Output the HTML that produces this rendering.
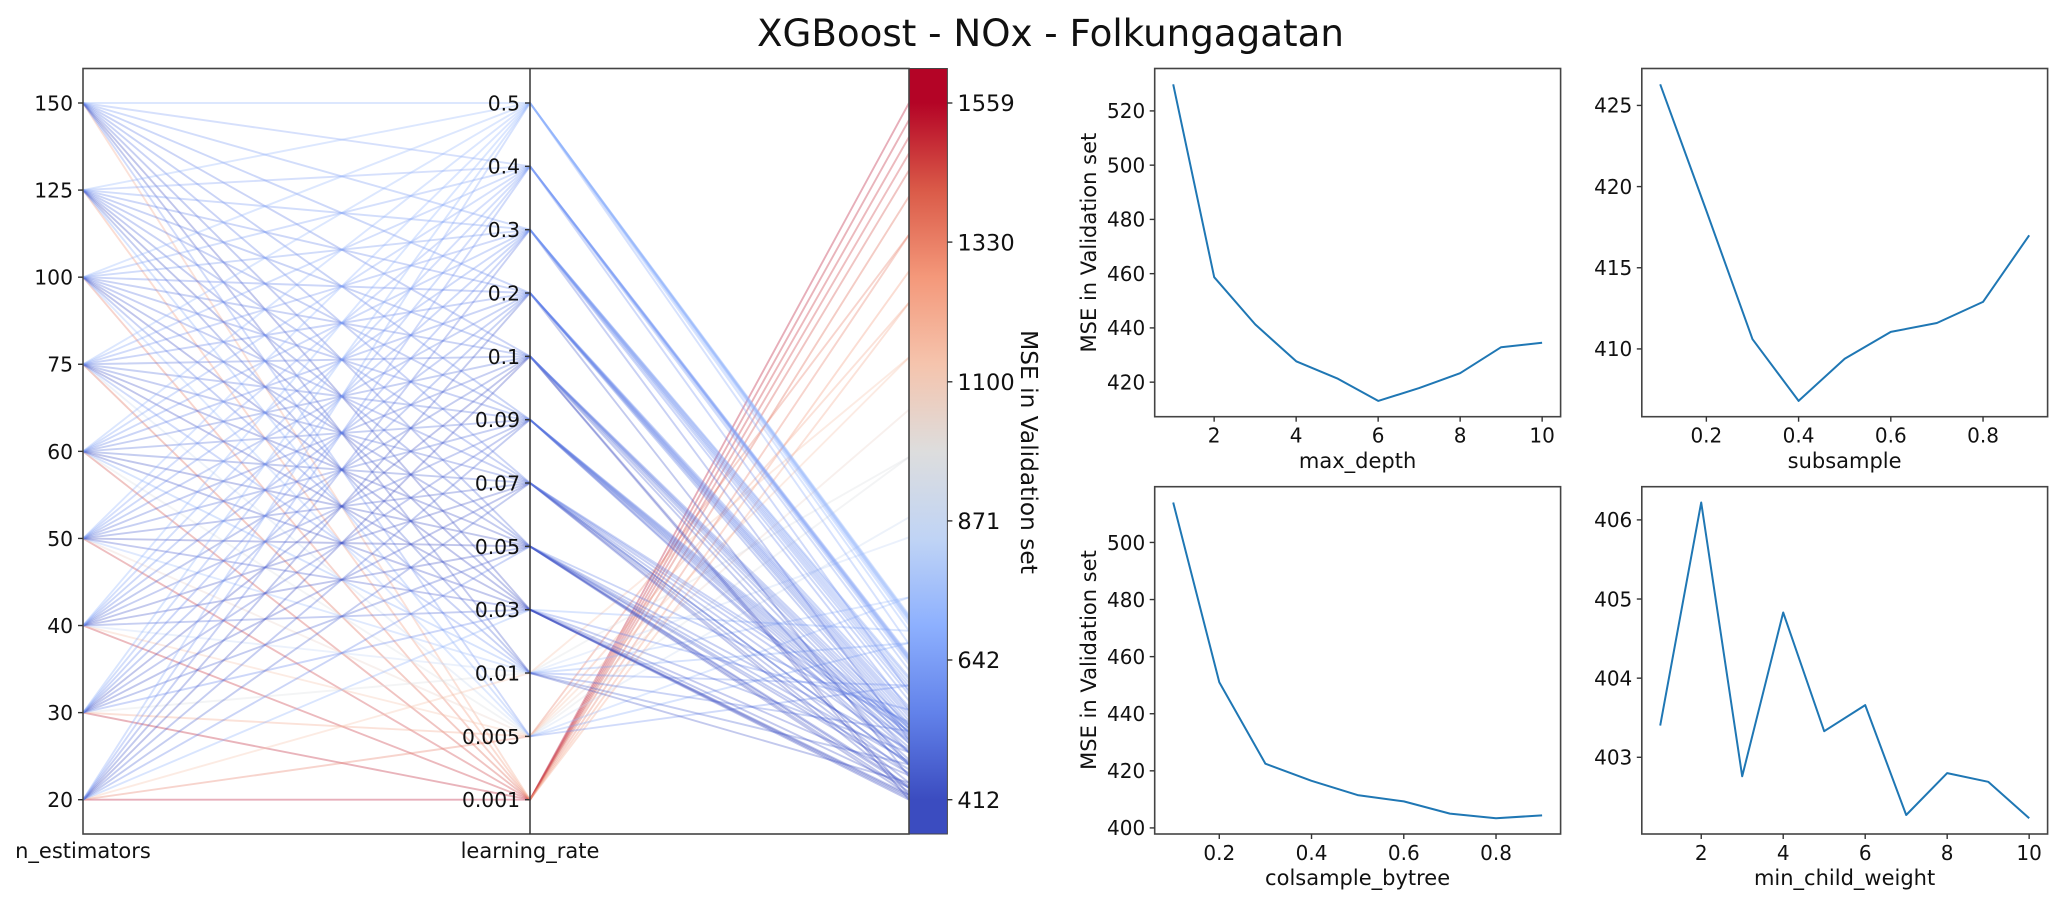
<!DOCTYPE html>
<html lang="en">
<head>
<meta charset="utf-8">
<title>XGBoost - NOx - Folkungagatan</title>
<style>
html,body{margin:0;padding:0;background:#fff;}
svg{display:block;}
text{font-family:"DejaVu Sans","Liberation Sans",sans-serif;fill:#111;}
</style>
</head>
<body>
<svg id="figure" xmlns="http://www.w3.org/2000/svg" width="2067" height="910" viewBox="0 0 2067 910">
  <defs>
    <linearGradient id="coolwarm-gradient" gradientUnits="userSpaceOnUse" x1="0" y1="800" x2="0" y2="103"></linearGradient>
  </defs>
  <text x="1050.5" y="46" font-size="37.2" text-anchor="middle">XGBoost - NOx - Folkungagatan</text>
  <g id="parallel-lines"></g>
  <rect x="909" y="68.5" width="38.4" height="765.5" fill="url(#coolwarm-gradient)" stroke="#444" stroke-width="1"></rect>
  <rect x="83" y="68.5" width="826" height="765.5" fill="none" stroke="#444" stroke-width="1.6"></rect>
  <line x1="530" y1="68.5" x2="530" y2="834" stroke="#333" stroke-width="1.5"></line>
  <g id="parallel-ticks"></g>
  <text x="83" y="858" font-size="21" text-anchor="middle">n_estimators</text>
  <text x="530" y="858" font-size="21" text-anchor="middle">learning_rate</text>
  <text transform="translate(1021,452) rotate(90)" font-size="23.3" text-anchor="middle">MSE in Validation set</text>

  <text transform="translate(1096,242.6) rotate(-90)" font-size="21" text-anchor="middle">MSE in Validation set</text>
  <text transform="translate(1096,660) rotate(-90)" font-size="21" text-anchor="middle">MSE in Validation set</text>
  <text x="1357.6" y="468" font-size="21" text-anchor="middle">max_depth</text>
  <text x="1844.6" y="468" font-size="21" text-anchor="middle">subsample</text>
  <text x="1357.6" y="885" font-size="21" text-anchor="middle">colsample_bytree</text>
  <text x="1844.6" y="885" font-size="21" text-anchor="middle">min_child_weight</text>
  <g id="panels"></g>
</svg>
<script>
/* ---------- parallel coordinates data ---------- */
const nEstimators = ['20','30','40','50','60','75','100','125','150'];
const learningRates = ['0.001','0.005','0.01','0.03','0.05','0.07','0.09','0.1','0.2','0.3','0.4','0.5'];
const mseLr0001 = [1559,1531,1503,1476,1448,1405,1342,1282,1230];
const mseLr0005 = [1342,1230,1140,1054,976,877,745,670,600];
const mseLr001  = [1140,976,844,745,670,600,525,470,440];
const mseLr003  = [690,560,490,452,432,418,412,415,420];
const mseLr005  = [540,462,432,420,425,435,455,475,495];
const mseLr007  = [470,431,440,455,470,490,510,525,535];
const mseLr009  = [472,478,490,498,505,512,518,524,530];
const mseLr01   = [412,420,470,490,505,515,522,528,535];
const mseLr02   = [450,520,530,536,542,548,553,558,565];
const mseLr03   = [510,560,575,585,592,598,604,610,614];
const mseLr04   = [590,625,635,640,642,644,646,648,650];
const mseLr05   = [668,690,700,705,708,710,712,714,716];
const mseRows = [mseLr0001,mseLr0005,mseLr001,mseLr003,mseLr005,mseLr007,mseLr009,mseLr01,mseLr02,mseLr03,mseLr04,mseLr05];
const colorbarTicks = [412,642,871,1100,1330,1559];

/* ---------- line panel data ---------- */
const maxDepthValues = [1,2,3,4,5,6,7,8,9,10];
const maxDepthMse = [529.8,458.7,441.3,427.7,421.4,413.1,417.8,423.3,432.9,434.5];
const maxDepthXTicks = [2,4,6,8,10];
const maxDepthYTicks = [420,440,460,480,500,520];

const subsampleValues = [0.1,0.2,0.3,0.4,0.5,0.6,0.7,0.8,0.9];
const subsampleMse = [426.3,418.5,410.6,406.8,409.4,411.05,411.6,412.9,417];
const subsampleXTicks = [0.2,0.4,0.6,0.8];
const subsampleYTicks = [410,415,420,425];

const colsampleValues = [0.1,0.2,0.3,0.4,0.5,0.6,0.7,0.8,0.9];
const colsampleMse = [514,451,422.5,416.5,411.5,409.3,405,403.4,404.4];
const colsampleXTicks = [0.2,0.4,0.6,0.8];
const colsampleYTicks = [400,420,440,460,480,500];

const minChildValues = [1,2,3,4,5,6,7,8,9,10];
const minChildMse = [403.4,406.22,402.76,404.83,403.33,403.66,402.27,402.8,402.69,402.23];
const minChildXTicks = [2,4,6,8,10];
const minChildYTicks = [403,404,405,406];

const NS = 'http://www.w3.org/2000/svg';
const coolwarmStops = [[0,59,76,192],[0.125,98,130,234],[0.25,141,176,254],[0.375,192,212,245],[0.5,221,221,221],[0.625,245,196,173],[0.75,244,152,122],[0.875,218,90,72],[1,180,4,38]];

function make(tag, attrs, parent){
  const el = document.createElementNS(NS, tag);
  for (const k in attrs) el.setAttribute(k, attrs[k]);
  parent.appendChild(el);
  return el;
}
function coolwarm(t){
  t = Math.max(0, Math.min(1, t));
  for (let i = 1; i < coolwarmStops.length; i++){
    const a = coolwarmStops[i-1], b = coolwarmStops[i];
    if (t <= b[0]){
      const f = (t - a[0]) / (b[0] - a[0]);
      return 'rgb(' + [1,2,3].map(j => Math.round(a[j] + (b[j]-a[j])*f)).join(',') + ')';
    }
  }
  return 'rgb(180,4,38)';
}

/* axis functions for the parallel plot */
const xN = 83, xLr = 530, xMse = 909;
const levelTop = 103, levelBottom = 799.7;
function yLevel(i, count){ return levelBottom - (levelBottom - levelTop) * i / (count - 1); }
function yMse(v){
  const lo = colorbarTicks[0], hi = colorbarTicks[colorbarTicks.length-1];
  return levelBottom - (v - lo) / (hi - lo) * (levelBottom - levelTop);
}
function mseNorm(v){
  const lo = colorbarTicks[0], hi = colorbarTicks[colorbarTicks.length-1];
  return (v - lo) / (hi - lo);
}

/* gradient */
const gradient = document.getElementById('coolwarm-gradient');
coolwarmStops.forEach(s => {
  make('stop', {offset: s[0], 'stop-color': 'rgb(' + s[1] + ',' + s[2] + ',' + s[3] + ')'}, gradient);
});

/* parallel lines */
const linesGroup = document.getElementById('parallel-lines');
mseRows.forEach((row, r) => {
  row.forEach((mse, c) => {
    const d = 'M' + xN + ' ' + yLevel(c, nEstimators.length).toFixed(1) +
              'L' + xLr + ' ' + yLevel(r, learningRates.length).toFixed(1) +
              'L' + xMse + ' ' + yMse(mse).toFixed(1);
    const el = make('path', {d: d, fill: 'none', stroke: coolwarm(mseNorm(mse)), 'stroke-width': 1.9, 'stroke-opacity': 0.32}, linesGroup);
    
    
  });
});

/* parallel ticks */
const tickGroup = document.getElementById('parallel-ticks');
function addYTick(group, axisX, y, label, size, side){
  const dir = side === 'left' ? -1 : 1;
  const tick = make('line', {x1: axisX, x2: axisX + dir*5, y1: y, y2: y, stroke: '#333', 'stroke-width': 1.4}, group);
  
  
  const txt = make('text', {x: axisX + dir*10, y: y + size*0.365, 'font-size': size, 'text-anchor': side === 'left' ? 'end' : 'start'}, group);
  
  
  txt.textContent = label;
}
nEstimators.forEach((v, i) => addYTick(tickGroup, xN, yLevel(i, nEstimators.length), v, 20.3, 'left'));
learningRates.forEach((v, i) => addYTick(tickGroup, xLr, yLevel(i, learningRates.length), v, 20.3, 'left'));
colorbarTicks.forEach(v => addYTick(tickGroup, 947.4, yMse(v), String(v), 22.5, 'right'));

/* line panels */
const panelsGroup = document.getElementById('panels');
function drawPanel(name, box, xs, ys, xTicks, yTicks){
  const g = make('g', {}, panelsGroup);
  
  
  const xLo = Math.min(...xs), xHi = Math.max(...xs), yLo = Math.min(...ys), yHi = Math.max(...ys);
  const xPad = (xHi - xLo) * 0.05, yPad = (yHi - yLo) * 0.05;
  const sx = v => box.l + (v - (xLo - xPad)) / (xHi - xLo + 2*xPad) * (box.r - box.l);
  const sy = v => box.b - (v - (yLo - yPad)) / (yHi - yLo + 2*yPad) * (box.b - box.t);
  const frame = make('rect', {x: box.l, y: box.t, width: box.r - box.l, height: box.b - box.t, fill: 'none', stroke: '#444', 'stroke-width': 1.6}, g);
  
  
  xTicks.forEach(v => {
    const t = make('line', {x1: sx(v), x2: sx(v), y1: box.b, y2: box.b + 5, stroke: '#333', 'stroke-width': 1.4}, g);
    
    
    const l = make('text', {x: sx(v), y: box.b + 26, 'font-size': 20, 'text-anchor': 'middle'}, g);
    
    
    l.textContent = String(v);
  });
  yTicks.forEach(v => {
    const t = make('line', {x1: box.l, x2: box.l - 5, y1: sy(v), y2: sy(v), stroke: '#333', 'stroke-width': 1.4}, g);
    
    
    const l = make('text', {x: box.l - 9.5, y: sy(v) + 7.3, 'font-size': 20, 'text-anchor': 'end'}, g);
    
    
    l.textContent = String(v);
  });
  const d = xs.map((x, i) => (i ? 'L' : 'M') + sx(x).toFixed(1) + ' ' + sy(ys[i]).toFixed(1)).join('');
  const line = make('path', {d: d, fill: 'none', stroke: '#1f77b4', 'stroke-width': 2, 'stroke-linejoin': 'round'}, g);
  
  
}
drawPanel('max-depth', {l:1154.7, r:1560.6, t:68.5, b:416.7}, maxDepthValues, maxDepthMse, maxDepthXTicks, maxDepthYTicks);
drawPanel('subsample', {l:1641.8, r:2047.6, t:68.5, b:416.7}, subsampleValues, subsampleMse, subsampleXTicks, subsampleYTicks);
drawPanel('colsample-bytree', {l:1154.7, r:1560.6, t:486.7, b:834}, colsampleValues, colsampleMse, colsampleXTicks, colsampleYTicks);
drawPanel('min-child-weight', {l:1641.8, r:2047.6, t:486.7, b:834}, minChildValues, minChildMse, minChildXTicks, minChildYTicks);
</script>
</body>
</html>
